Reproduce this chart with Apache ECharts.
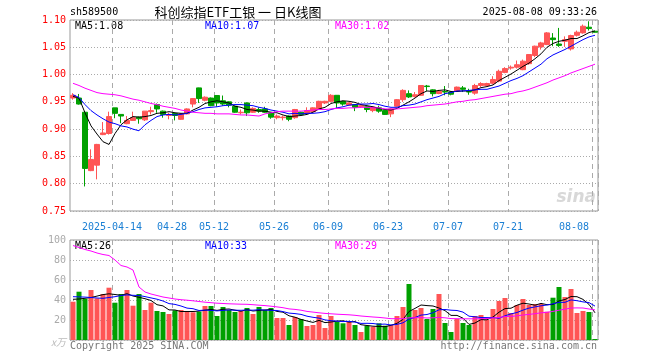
<!DOCTYPE html>
<html>
<head>
<meta charset="utf-8">
<script src="https://cdn.jsdelivr.net/npm/echarts/dist/echarts.min.js"></script>
<style>
html,body{margin:0;padding:0;background:#fff;}
#c{width:660px;height:360px;}
</style>
</head>
<body>
<div id="c"></div>
<script>
const dates = [
'2025-04-02','2025-04-03','2025-04-07','2025-04-08','2025-04-09','2025-04-10','2025-04-11','2025-04-14','2025-04-15','2025-04-16',
'2025-04-17','2025-04-18','2025-04-21','2025-04-22','2025-04-23','2025-04-24','2025-04-25','2025-04-28','2025-04-29','2025-04-30',
'2025-05-06','2025-05-07','2025-05-08','2025-05-09','2025-05-12','2025-05-13','2025-05-14','2025-05-15','2025-05-16','2025-05-19',
'2025-05-20','2025-05-21','2025-05-22','2025-05-23','2025-05-26','2025-05-27','2025-05-28','2025-05-29','2025-05-30','2025-06-03',
'2025-06-04','2025-06-05','2025-06-06','2025-06-09','2025-06-10','2025-06-11','2025-06-12','2025-06-13','2025-06-16','2025-06-17',
'2025-06-18','2025-06-19','2025-06-20','2025-06-23','2025-06-24','2025-06-25','2025-06-26','2025-06-27','2025-06-30','2025-07-01',
'2025-07-02','2025-07-03','2025-07-04','2025-07-07','2025-07-08','2025-07-09','2025-07-10','2025-07-11','2025-07-14','2025-07-15',
'2025-07-16','2025-07-17','2025-07-18','2025-07-21','2025-07-22','2025-07-23','2025-07-24','2025-07-25','2025-07-28','2025-07-29',
'2025-07-30','2025-07-31','2025-08-01','2025-08-04','2025-08-05','2025-08-06','2025-08-07','2025-08-08'];

const opens = [
0.957,0.957,0.931,0.824,0.834,0.890,0.892,0.939,0.927,0.910,
0.916,0.922,0.917,0.932,0.945,0.933,0.925,0.9285,0.918,0.928,
0.946,0.9756,0.953,0.957,0.9616,0.952,0.950,0.942,0.930,0.948,
0.931,0.936,0.937,0.930,0.921,0.921,0.924,0.921,0.931,0.929,
0.932,0.936,0.948,0.951,0.962,0.9506,0.944,0.945,0.941,0.941,
0.934,0.939,0.934,0.928,0.942,0.954,0.965,0.960,0.962,0.979,
0.972,0.9653,0.969,0.968,0.970,0.9756,0.969,0.966,0.980,0.980,
0.984,0.988,1.004,1.012,1.0135,1.009,1.020,1.035,1.0507,1.055,
1.067,1.056,1.061,1.047,1.072,1.0764,1.0868,1.0794];
const closes = [
0.962,0.946,0.828,0.8445,0.872,0.893,0.923,0.929,0.924,0.916,
0.921,0.919,0.933,0.934,0.937,0.927,0.927,0.925,0.928,0.937,
0.956,0.956,0.9585,0.943,0.948,0.946,0.944,0.931,0.931,0.930,
0.938,0.933,0.931,0.922,0.924,0.922,0.918,0.936,0.927,0.934,
0.939,0.951,0.951,0.962,0.948,0.946,0.948,0.940,0.943,0.936,
0.940,0.933,0.927,0.937,0.954,0.971,0.959,0.963,0.980,0.978,
0.965,0.9695,0.968,0.964,0.977,0.973,0.968,0.980,0.9836,0.9836,
0.991,1.006,1.011,1.0135,1.018,1.0245,1.0367,1.052,1.058,1.0764,
1.064,1.0535,1.064,1.0715,1.0776,1.0886,1.0843,1.0776];
const lows = [
0.954,0.945,0.795,0.823,0.808,0.889,0.890,0.920,0.911,0.909,
0.915,0.910,0.915,0.927,0.930,0.921,0.918,0.916,0.917,0.927,
0.940,0.948,0.951,0.942,0.941,0.943,0.940,0.930,0.927,0.924,
0.930,0.930,0.930,0.919,0.918,0.916,0.9145,0.919,0.926,0.928,
0.931,0.935,0.946,0.949,0.939,0.943,0.943,0.933,0.939,0.931,
0.931,0.930,0.926,0.922,0.941,0.950,0.957,0.958,0.961,0.970,
0.960,0.964,0.962,0.962,0.968,0.968,0.963,0.963,0.977,0.979,
0.982,0.986,1.0025,1.009,1.011,1.008,1.018,1.032,1.0458,1.054,
1.052,1.0507,1.0507,1.044,1.0697,1.075,1.0806,1.077];
const highs = [
0.966,0.9645,0.932,0.863,0.873,0.913,0.932,0.939,0.927,0.924,
0.932,0.923,0.933,0.941,0.947,0.934,0.930,0.930,0.929,0.938,
0.957,0.976,0.960,0.958,0.962,0.9616,0.951,0.943,0.936,0.949,
0.940,0.940,0.941,0.931,0.927,0.925,0.925,0.937,0.932,0.940,
0.940,0.952,0.952,0.964,0.962,0.952,0.949,0.946,0.946,0.942,
0.941,0.943,0.935,0.938,0.955,0.973,0.971,0.968,0.980,0.981,
0.973,0.972,0.979,0.969,0.978,0.979,0.974,0.983,0.986,0.985,
0.997,1.009,1.0135,1.0166,1.0257,1.0275,1.037,1.053,1.060,1.078,
1.076,1.0855,1.070,1.073,1.0806,1.0917,1.0977,1.080];

const ma5 = [
0.960,0.957,0.930,0.906,0.891,0.877,0.872,0.892,0.908,0.917,
0.923,0.922,0.923,0.925,0.929,0.930,0.932,0.930,0.929,0.929,
0.935,0.940,0.947,0.950,0.952,0.950,0.948,0.942,0.940,0.936,
0.935,0.933,0.933,0.931,0.930,0.926,0.923,0.924,0.925,0.927,
0.931,0.937,0.940,0.947,0.950,0.952,0.951,0.949,0.945,0.943,
0.941,0.938,0.936,0.935,0.938,0.944,0.950,0.957,0.965,0.970,
0.969,0.971,0.972,0.969,0.969,0.970,0.970,0.972,0.976,0.978,
0.981,0.989,0.995,1.001,1.008,1.015,1.021,1.029,1.038,1.050,
1.057,1.061,1.063,1.066,1.066,1.071,1.077,1.080];
const ma10 = [
0.963,0.958,0.945,0.934,0.926,0.919,0.913,0.910,0.906,0.904,
0.900,0.897,0.908,0.916,0.923,0.926,0.927,0.926,0.927,0.929,
0.932,0.936,0.939,0.940,0.941,0.943,0.944,0.945,0.945,0.944,
0.943,0.940,0.938,0.935,0.933,0.931,0.928,0.929,0.928,0.929,
0.929,0.930,0.932,0.936,0.939,0.941,0.944,0.945,0.946,0.946,
0.947,0.945,0.942,0.940,0.940,0.943,0.944,0.946,0.950,0.954,
0.957,0.960,0.965,0.967,0.970,0.970,0.971,0.972,0.973,0.973,
0.976,0.979,0.984,0.989,0.993,0.998,1.005,1.012,1.019,1.029,
1.036,1.041,1.046,1.052,1.058,1.064,1.069,1.072];
const ma30 = [
0.984,0.980,0.975,0.971,0.967,0.965,0.964,0.963,0.961,0.958,
0.955,0.953,0.950,0.947,0.945,0.942,0.940,0.938,0.935,0.933,
0.931,0.930,0.929,0.929,0.928,0.928,0.928,0.927,0.926,0.926,
0.925,0.924,0.928,0.930,0.932,0.933,0.933,0.933,0.933,0.934,
0.935,0.936,0.936,0.937,0.938,0.938,0.939,0.939,0.940,0.940,
0.939,0.939,0.937,0.937,0.937,0.938,0.939,0.940,0.941,0.943,
0.944,0.945,0.946,0.948,0.950,0.951,0.953,0.954,0.956,0.958,
0.960,0.962,0.964,0.965,0.968,0.970,0.973,0.977,0.981,0.985,
0.990,0.994,0.998,1.003,1.007,1.011,1.015,1.019];

const volumes = [
38.3,48.3,41,50,41.7,46,52.3,37.3,46,50,
34.3,46,30,37.3,29,28,26,29.7,30,29,
27.7,28.3,34,34,24,33,30,28,29,32,
26,33,30,32,22,22,15,23,21,14,
15,25,12,24,18.3,16.7,18.3,15,8,14.3,
13.3,16.7,14.3,15,24,33,56,30,32,21,
31,46,17,8,21,17,15,24,25,20,
31,39,42,27,35,41,35,36,36,28.3,
42.3,53,43,51,27,29,28,1];
const volMa5 = [
40.7,41,41.7,42.5,43.9,45.4,46.2,45.5,44.7,46.3,
44.0,42.7,41.3,39.5,35.3,34.1,30.1,30.0,28.5,28.5,
28.5,28.9,29.8,30.6,29.6,30.7,31.0,29.8,28.8,30.4,
29.0,29.6,30.0,30.6,28.6,27.8,24.2,22.8,20.6,19.0,
17.6,19.6,17.4,18.0,18.9,19.2,17.9,18.5,15.3,14.5,
13.8,13.5,13.3,14.7,16.7,20.6,28.5,31.6,35.0,34.4,
34.0,32.0,29.4,24.6,24.6,21.8,15.6,17.0,20.4,20.2,
23.0,27.8,31.4,31.8,34.8,36.8,36.0,34.8,36.6,35.3,
35.5,39.1,40.5,43.5,43.3,40.6,35.6,27.2];
const volMa10 = [
43.3,43.1,42.9,42.5,42.0,41.7,42.5,43.3,44.5,45.1,
44.7,44.5,43.4,42.1,40.8,39.0,36.4,35.6,34.0,31.9,
31.3,29.5,29.9,29.6,29.1,29.6,30.0,29.8,29.7,30.0,
29.8,30.3,29.9,29.7,29.5,28.4,26.9,26.4,25.6,23.8,
22.7,21.9,20.1,19.3,18.9,18.4,18.7,17.9,16.6,16.7,
16.5,15.7,15.9,15.0,15.6,17.2,21.0,22.5,24.9,25.5,
27.3,30.2,30.5,29.8,29.5,27.9,23.8,23.2,22.5,22.4,
22.4,21.7,24.2,26.1,27.5,29.9,31.9,33.1,34.2,35.0,
36.2,37.6,37.7,40.1,39.3,38.1,37.4,33.9];
const volMa30 = [
94.5,92.5,90.5,89,87,85.5,84.5,80,74.5,73,
70,53,48,46,44.5,43,42,41,40.3,39.8,
39.2,38.5,37.8,37.3,36.8,36.5,36.2,36,35.8,35.7,
35.3,34.8,34.4,33.8,33.1,32.3,31.1,30.6,29.8,28.6,
27.9,27.2,26.6,26.2,25.8,25.5,25.2,24.7,24.0,23.5,
23.0,22.6,22.0,21.3,21.3,21.3,22.2,22.3,22.4,22.0,
22.2,22.6,22.2,21.4,21.3,21.2,21.2,21.2,21.3,21.5,
22.1,22.5,23.5,23.6,24.2,25.0,25.6,26.3,27.2,27.7,
28.6,29.8,30.8,32.0,32.1,32.0,31.0,30.1];

const tickDates = ['2025-04-14','2025-04-28','2025-05-12','2025-05-26','2025-06-09','2025-06-23','2025-07-07','2025-07-21','2025-08-08'];
const priceLegend = ['MA5:1.08','MA10:1.07','MA30:1.02'];
const volLegend = ['MA5:26','MA10:33','MA30:29'];
const titleText = '科创综指ETF工银 一 日K线图';
const codeText = 'sh589500';
const timeText = '2025-08-08 09:33:26';

const RED = '#ff5555', GREEN = '#00a000';
const MONO = '"DejaVu Sans Mono", "Liberation Mono", monospace';
const candleData = dates.map((d, i) => [opens[i], closes[i], lows[i], highs[i]]);
const volData = volumes.map((v, i) => ({value: v, itemStyle: {color: closes[i] >= opens[i] ? RED : GREEN}}));
const isTick = (idx, val) => tickDates.indexOf(val) >= 0;

const chart = echarts.init(document.getElementById('c'), null, {renderer: 'canvas'});
const lineStyle = c => ({color: c, width: 1});
const legendColors = ['#000000', '#0000ff', '#ff00ff'];
const legendX = [75, 205, 335];

const graphics = [
  {type: 'text', x: 70, y: 12, style: {text: codeText, font: '10px ' + MONO, fill: '#000', textAlign: 'left', textVerticalAlign: 'middle'}},
  {type: 'text', x: 238, y: 12, style: {text: titleText, font: '13px "Noto Sans CJK SC"', fill: '#000', textAlign: 'center', textVerticalAlign: 'middle'}},
  {type: 'text', x: 597, y: 12, style: {text: timeText, font: '10px ' + MONO, fill: '#000', textAlign: 'right', textVerticalAlign: 'middle'}},
  {type: 'text', x: 70, y: 346, style: {text: 'Copyright 2025 SINA.COM', font: '10px ' + MONO, fill: '#777', textAlign: 'left', textVerticalAlign: 'middle'}},
  {type: 'text', x: 597, y: 346, style: {text: 'http://finance.sina.com.cn', font: '10px ' + MONO, fill: '#777', textAlign: 'right', textVerticalAlign: 'middle'}},
  {type: 'text', x: 66, y: 342, style: {text: 'x万', font: 'italic 10px "Noto Sans CJK SC"', fill: '#bbb', textAlign: 'right', textVerticalAlign: 'middle'}},
  {type: 'text', x: 596, y: 198, z: -1, style: {text: 'sina', font: 'italic bold 17px "DejaVu Sans"', fill: '#d8d8d8', textAlign: 'right', textVerticalAlign: 'middle'}}
];
priceLegend.forEach((t, i) => graphics.push({type: 'text', x: legendX[i], y: 26, style: {text: t, font: '10px ' + MONO, fill: legendColors[i], textAlign: 'left', textVerticalAlign: 'middle'}}));
volLegend.forEach((t, i) => graphics.push({type: 'text', x: legendX[i], y: 246, style: {text: t, font: '10px ' + MONO, fill: legendColors[i], textAlign: 'left', textVerticalAlign: 'middle'}}));

const vSplit = {show: true, interval: isTick, lineStyle: {color: '#aaa', type: [5, 4], width: 1}};
const hSplit = {show: true, lineStyle: {color: '#aaa', type: [1, 2], width: 1}};

chart.setOption({
  animation: false,
  backgroundColor: '#fff',
  grid: [
    {left: 70, right: 62, top: 20, height: 191, show: true, borderColor: '#999', borderWidth: 1},
    {left: 70, right: 62, top: 240, height: 100, show: true, borderColor: '#999', borderWidth: 1}
  ],
  xAxis: [
    {type: 'category', gridIndex: 0, data: dates, boundaryGap: true,
     axisLine: {show: false}, axisTick: {show: false}, splitLine: vSplit,
     axisLabel: {show: true, interval: isTick, color: '#1a7fd4', fontFamily: MONO, fontSize: 10, margin: 11,
       padding: [0, 6, 0, 0], alignMaxLabel: 'right',
       formatter: v => v === tickDates[0] ? v : v.slice(5)}},
    {type: 'category', gridIndex: 1, data: dates, boundaryGap: true,
     axisLine: {show: false}, axisTick: {show: false}, axisLabel: {show: false}, splitLine: vSplit}
  ],
  yAxis: [
    {type: 'value', gridIndex: 0, min: 0.75, max: 1.10, interval: 0.05,
     axisLine: {show: false}, axisTick: {show: false}, splitLine: hSplit,
     axisLabel: {color: '#ff0000', fontFamily: MONO, fontSize: 10, margin: 4, formatter: v => v.toFixed(2)}},
    {type: 'value', gridIndex: 1, min: 0, max: 100, interval: 20,
     axisLine: {show: false}, axisTick: {show: false}, splitLine: hSplit,
     axisLabel: {color: '#aaa', fontFamily: MONO, fontSize: 10, margin: 4, formatter: v => v === 0 ? '' : String(v)}}
  ],
  graphic: graphics,
  series: [
    {type: 'candlestick', xAxisIndex: 0, yAxisIndex: 0, data: candleData, barWidth: 5,
     itemStyle: {color: RED, color0: GREEN, borderColor: RED, borderColor0: GREEN, borderWidth: 1}},
    {type: 'line', xAxisIndex: 0, yAxisIndex: 0, data: ma5, symbol: 'none', lineStyle: lineStyle('#000000'), z: 3},
    {type: 'line', xAxisIndex: 0, yAxisIndex: 0, data: ma10, symbol: 'none', lineStyle: lineStyle('#0000ff'), z: 3},
    {type: 'line', xAxisIndex: 0, yAxisIndex: 0, data: ma30, symbol: 'none', lineStyle: lineStyle('#ff00ff'), z: 3},
    {type: 'bar', xAxisIndex: 1, yAxisIndex: 1, data: volData, barWidth: 5},
    {type: 'line', xAxisIndex: 1, yAxisIndex: 1, data: volMa5, symbol: 'none', lineStyle: lineStyle('#000000'), z: 3},
    {type: 'line', xAxisIndex: 1, yAxisIndex: 1, data: volMa10, symbol: 'none', lineStyle: lineStyle('#0000ff'), z: 3},
    {type: 'line', xAxisIndex: 1, yAxisIndex: 1, data: volMa30, symbol: 'none', lineStyle: lineStyle('#ff00ff'), z: 3}
  ]
});
</script>
</body>
</html>
